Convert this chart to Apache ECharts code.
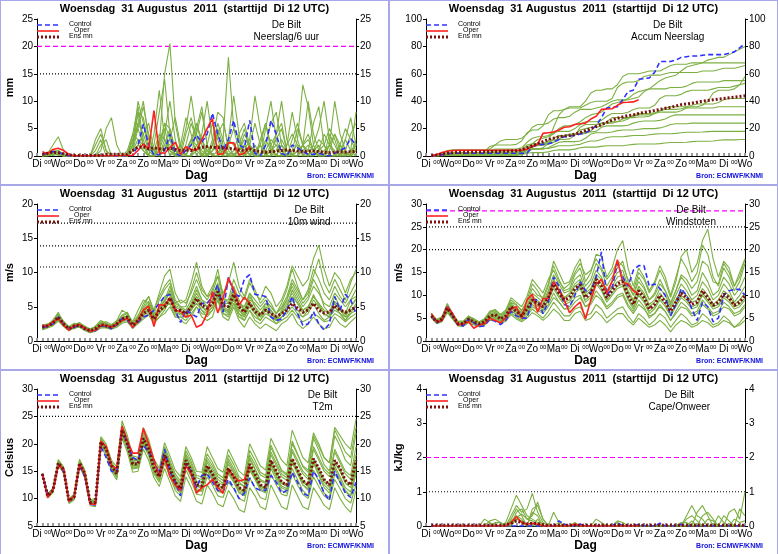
<!DOCTYPE html>
<html>
<head>
<meta charset="utf-8">
<script src="https://cdn.jsdelivr.net/npm/echarts@6/dist/echarts.min.js"></script>
<style>
  body { margin: 0; background: #fff; }
  .p { position: absolute; width: 387px; height: 183px; border: 1px solid #a8a8e8; }
</style>
</head>
<body>
<div class="p" id="p1" style="left:0;top:0"></div>
<div class="p" id="p2" style="left:389px;top:0"></div>
<div class="p" id="p3" style="left:0;top:185px"></div>
<div class="p" id="p4" style="left:389px;top:185px"></div>
<div class="p" id="p5" style="left:0;top:370px"></div>
<div class="p" id="p6" style="left:389px;top:370px"></div>
<script>
var dagen = ['Di','Wo','Do','Vr','Za','Zo','Ma','Di','Wo','Do','Vr','Za','Zo','Ma','Di','Wo']
var tijd = []
for (var t = 0; t <= 60; t++) tijd.push(t)

// sparse table -> 6-hourly list (t = 1..60)
function uitTabel(tab, basis) {
  var r = []
  for (var t = 1; t <= 60; t++) r.push(tab[t] !== undefined ? tab[t] : basis)
  return r
}

var panelen = {
  p1: {
    naam: 'mm', min: 0, max: 25, interval: 5, sub: 'Neerslag/6 uur',
    lijnen: [[20, 'rgb(255,0,255)', 'dashed'], [15, '#000000', 'dotted']],
    control: [0.3,0.5,0.8,0.7,0.3,0,0,0,0,0,0.1,0.1,0,0,0,0,0,0.1,2,5.8,2,0.2,0.3,1,4,0.5,0,1,2,3.8,2.5,4,7.8,4,1,3,6.5,2,1.5,6.5,0.5,0,2,6.5,4,0.5,0,2,1.5,0.8,0.3,0.3,0.5,0.2,0,0.5,1,1.5,3.2,2],
    oper: [0.8,0.4,1.2,1.4,1.0,0.3,0.05,0.05,0.05,0.05,0.05,0.05,0.05,0.05,0.05,0.1,0.1,0.1,1.0,2.2,1.3,8.3,0.6,0.5,1.5,2.5,0.3,1.7,1.2,1.0,3,5,6.8,0.3,0.4,2.4,2.4,0.2,0.5,1.8],
    mean: [0.3,0.5,0.7,0.6,0.4,0.2,0.1,0.1,0.1,0.1,0.1,0.1,0.3,0.3,0.3,0.3,0.3,1.0,1.6,1.7,1.3,1.5,1.3,1.2,1.4,1.2,1.0,1.1,1.0,1.3,1.6,1.7,1.6,1.5,1.5,1.4,1.3,1.1,1.0,1.3,1.0,0.8,0.7,0.8,0.9,1.0,1.1,1.0,0.9,0.8,0.9,0.9,0.8,0.7,0.6,0.7,0.8,0.7,0.8,0.8],
    leden: [
      [0,0.5,1,0.5,0,0,0,0,0,0,0,0,0,0,0,0,0,2,6,10,3,1,0,2,5,1,0,0,3,6,2,0,1,4,1,0,0,2,5,1,0,0,3,1,0,0,2,8,3,0,0,1,2,0,0,0,1,3,1,0],
      [0,0.2,0.5,1,0.2,0,0,0,0,0,3,5,1,0,0,0,0.5,3,8,2,0,4,12,3,0,1,2,0,0,5,9,2,0,1,0,3,11,4,0,0,1,2,0,0,4,6,1,0,0,2,10,4,1,0,0,0,2,1,0,0],
      [0.2,0.3,0.5,0.3,0,0,0,0,0,0,0,0,0,0,0,0,1,4,3,1,0,0,2,15,20.5,6,1,0,0,2,3,1,0,0,3,18,5,1,0,2,6,2,0,0,1,3,1,0,0,0,1,6,9,2,0,0,0,1,0,1],
      [0,0.5,2,3.5,1,0,0,0,0,0,0,1,5,7,2,0,0,1,5,9,4,0,1,6,3,0,2,7,4,0,0,1,2,4,6,2,0,0,1,3,11,5,0,0,0,2,1,0,3,13,9,2,0,0,2,4,1,0,0,2],
      [0,0,0.5,0.5,0.2,0,0,0,0,0,2,4,1,0,0,0,0,2,10,6,1,0,3,5,1,0,0,4,7,3,0,0,2,6,3,0,0,1,4,2,0,0,5,10,3,0,0,1,5,2,0,0,1,4,2,0,0,3,7,2],
      [0,0.3,0.6,0.4,0,0,0,0,0,0,0,0,0,0,0,0,0,3,5,2,1,2,8,14,4,0,0,2,6,3,1,0,3,8,7,1,0,0,2,1,0,0,2,6,8,2,0,0,1,2,4,1,0,0,2,10,4,1,0,3],
      [0,0.2,0.5,0.6,0,0,0,0,0,0,1,3,0,0,0,0,0,1,2,4,6,1,0,1,3,7,2,0,0,1,4,10,3,0,0,2,5,3,0,1,0,2,6,2,0,0,0,3,6,2,0,0,1,2,5,3,0,0,1,8],
      [0,0.4,0.8,1,0.3,0,0,0,0,0,0,0,0,0,0,0,0,4,9,3,0,0,1,4,10,3,0,1,3,1,0,2,6,3,0,0,0,1,3,2,1,0,0,2,4,10,3,0,0,1,2,1,0,0,4,2,0,0,1,2],
      [0,0,0.2,0.3,0,0,0,0,0,0,0,2,3,0,0,0,0,1,3,2,0,0,2,6,5,1,0,0,2,4,8,2,0,0,1,3,2,0,0,1,2,0,0,1,3,5,1,0,0,2,3,1,0,0,1,4,2,0,0,1],
      [0,0.3,0.8,0.5,0,0,0,0,0,0,0,0,0,0,0,0,0,2,6,4,1,1,4,3,1,0,1,5,11,4,0,0,1,2,1,0,1,4,6,2,0,0,1,3,2,0,0,1,2,1,0,2,5,10,3,0,0,1,4,6],
      [0.2,0.4,0.6,0.4,0,0,0,0,0,0,0,0,0,0,0,0,0,1,8,7,2,0,0,3,2,0,0,1,2,6,3,0,2,5,2,0,0,1,2,0,0,3,6,1,0,0,2,4,2,0,0,1,3,2,0,0,2,5,3,1],
      [0,0.1,0.3,0.2,0,0,0,0,0,0,0,0,0,0,0,0,0,1,2,1,0,0,1,2,1,0,0,1,3,2,0,0,1,2,0,0,0,1,2,1,0,0,0,1,2,1,0,0,1,2,1,0,0,1,2,1,0,0,1,2]
    ]
  },
  p2: {
    naam: 'mm', min: 0, max: 100, interval: 20, sub: 'Accum Neerslag', lijnen: [],
    control: [0,0.5,1,1.5,2,2,2,2,2,2,2,2,2,2,2,2,2,2,2,7,8,8.5,9,10,12,14,14.5,15,16,17,19,22,28,35,35.5,36,41,47,48,56,56.5,57,61,69,69,69,70,72,72.5,73,73,73.5,74,74,74,74,75,76,79,82],
    oper: [0.5,1,2.5,3.5,4,4.2,4.2,4.2,4.2,4.2,4.2,4.2,4.2,4.2,4.2,4.2,4.2,4.2,5,7,8.5,16.5,17,17.5,19,21,21.3,23,23.5,24,27,29,34,34.3,34.5,37,39,39.2,39.5,41],
    mean: [0.2,0.7,1.4,2,2.4,2.6,2.7,2.8,2.9,3,3.1,3.2,3.3,3.4,3.5,3.6,3.8,4.5,6,7.5,9,10.5,12,13,14,14.5,15,16,17,18.5,20,21.5,23,24.5,26,27.5,28.5,29.5,30,31,31.8,32.5,33.2,34,34.8,35.5,36.5,37.5,38,38.5,39.3,40,40.5,41,41.5,42,42.5,43,43.5,44],
    leden: [
      [0,0.5,1.5,2.5,2.5,2.5,2.5,2.5,2.5,2.5,2.5,2.5,2.5,2.5,2.5,2.5,2.5,3,5,9,12,13,14,16,20,22,22,23,25,28,30,31,32,35,38,39,40,42,45,47,48,49,52,55,57,58,59,62,65,66,67,68,70,71,72,72,74,76,78,80],
      [0,0.3,1,1.5,1.5,1.5,1.5,1.5,1.5,1.5,3,7,8,8,8,8,8.5,11,17,19,19,22,30,33,33,34,36,36,36,40,46,48,48,49,49,52,58,60,60,60,61,62,62,62,64,66,67,67,67,68,68,68,68,68,68,68,68,68,68,68],
      [0,0.3,0.8,1,1,1,1,1,1,1,1,1,1,1,1,1,2,5,8,9,9,9,11,21,30,34,35,35,35,37,39,40,40,40,42,50,53,54,54,55,58,59,59,59,60,61,61,61,61,61,61,62,62,62,63,64,64,64,65,66],
      [0,0.5,2,4,4.5,4.5,4.5,4.5,4.5,4.5,4.5,5,8,11,12,12,12,13,16,21,23,23,24,27,28,28,29,32,34,34,34,35,36,38,40,41,41,41,42,43,47,49,49,49,49,50,50,50,51,53,54,54,54,54,54,55,55,55,55,55],
      [0,0,0.5,1,1,1,1,1,1,1,2,4,5,5,5,5,5,6,10,13,14,14,15,17,18,18,18,20,23,25,25,25,26,29,31,31,31,32,34,35,35,35,37,42,44,44,44,45,47,48,48,48,48,49,50,50,50,51,52,53],
      [0,0.3,0.8,1,1,1,1,1,1,1,1,1,1,1,1,1,1,2,4,5,5,6,9,13,15,15,15,16,19,20,21,21,22,25,28,28,28,28,29,30,30,30,31,33,35,36,36,36,36,37,38,38,38,38,39,41,42,42,42,42],
      [0,0.2,0.5,1,1,1,1,1,1,1,1.5,3,3,3,3,3,3,3.5,4.5,6,9,9.5,9.5,10,12,15,16,16,16,16.5,18,23,24,24,24,25,27,28,28,28.5,28.5,29,31,32,32,32,32,33,35,35,35,35,35,35,36,36,36,36,36,36],
      [0,0.4,1,1.5,1.6,1.6,1.6,1.6,1.6,1.6,1.6,1.6,1.6,1.6,1.6,1.6,1.6,3,7,8,8,8,8.5,10,14,15,15,15.5,17,17.5,17.5,18,21,22,22,22,22,22.5,24,25,25.5,25.5,25.5,26,27,29,30,30,30,30,30,30,30,30,30,30,30,30,30,30],
      [0,0,0.2,0.4,0.4,0.4,0.4,0.4,0.4,0.4,0.4,1,2,2,2,2,2,2.5,4,5,5,5,6,8,10,10.5,10.5,10.5,11,13,16,17,17,17,17.5,18.5,19,19,19,19.5,20,20,20,20.5,21.5,23,23.5,23.5,23.5,24,24,24,24,24,24,24,24,24,24,24],
      [0,0.3,1,1.5,1.5,1.5,1.5,1.5,1.5,1.5,1.5,1.5,1.5,1.5,1.5,1.5,1.5,2.5,5,7,7.5,8,10,11.5,12,12,12.5,15,21,23,23,23,23.5,24.5,25,25,25.5,27,30,31,31,31,31.5,33,34,34,34,34.5,35.5,36,36,37,40,46,48,48,48,49,52,58],
      [0,0.2,0.5,0.8,0.8,0.8,0.8,0.8,0.8,0.8,0.8,0.8,0.8,0.8,0.8,0.8,0.8,1.2,3,5,5.5,5.5,5.5,6.5,7.5,7.5,7.5,8,8.5,10,11,11,12,13.5,14,14,14,14.5,15,15,15,15.5,16,16.2,16.2,16.2,16.5,17,17.3,17.3,17.3,17.5,17.8,18,18,18,18,18,18,18],
      [0,0.1,0.3,0.5,0.5,0.5,0.5,0.5,0.5,0.5,0.5,0.5,0.5,0.5,0.5,0.5,0.5,1,2,2.5,2.5,2.5,3,4,4.5,4.5,4.5,5,6,6.5,6.5,6.5,7,7.5,7.5,7.5,7.5,8,8.5,8.8,8.8,8.8,8.8,9,9.5,9.8,9.8,9.8,10,10.5,10.8,10.8,10.8,11,11.5,11.8,11.8,11.8,12,12]
    ]
  },
  p3: {
    naam: 'm/s', min: 0, max: 20, interval: 5, sub: '10m wind',
    lijnen: [[10.8, '#000000', 'dotted'], [13.9, '#000000', 'dotted'], [17.2, '#000000', 'dotted']],
    control: [2.0,2.1,2.5,3.5,2.5,1.7,2.0,2.3,1.8,1.4,1.5,2.2,2.2,1.8,2.4,3.3,3.0,2.0,2.8,3.5,3.8,4.5,5.5,6.5,6.8,4.5,2.7,4.5,4.0,3.5,5.5,5.5,6.5,8.2,4.2,9.3,7,6.5,9,9.7,6.8,6.7,6.5,3.5,3.0,3.2,4.5,6.5,4,2.3,2.5,4.3,2.5,1.6,2.5,6.5,4.5,6.8,6,4],
    oper: [2.3,2.2,2.8,3.3,2.3,1.6,2.2,2.4,1.9,1.4,1.6,2.3,2.3,2.0,2.5,3.0,3.3,2.0,3.0,4.5,5.1,2.1,5.3,5.2,6.3,4.5,4.3,3.5,3.8,2.0,2.4,4.0,7.2,4.1,6.2,9.2,7.5,5.2,6.4,5.5],
    mean: [2,2.2,2.6,3.5,2.5,1.8,2.2,2.3,1.8,1.5,1.8,2.4,2.2,2.0,2.5,3.2,3.5,2.3,3.0,4.0,4.5,3.2,4.5,5.0,6.3,4.5,4.5,4.0,5.0,6.2,5.2,4.8,5.5,7.2,5.2,5.0,6.8,5.0,4.2,5.5,4.3,3.8,4.5,4.0,3.6,4.0,4.5,5.5,4.8,4.2,4.5,5.5,4.5,4.1,4.2,5.2,4.5,4.2,4.5,5],
    leden: [
      [1.8,2.0,2.8,3.8,2.2,1.5,2.0,2.6,1.6,1.2,2.0,2.8,2.5,1.8,2.8,3.8,4.2,2.5,3.5,5.5,6.5,4.0,6.0,7.5,8.5,5.5,6.0,5.5,7.0,9.0,7.0,6.0,7.5,10.5,6.5,5.5,8.0,6.0,4.5,7.0,5.0,3.5,5.5,4.5,3.0,4.5,6.0,8.5,7.0,5.5,6.5,9.0,7.5,5.0,4.0,6.5,5.0,4.0,6.0,7.5],
      [2.2,2.4,2.3,3.2,2.8,2.0,2.5,2.0,2.0,1.7,1.5,2.0,2.0,2.3,2.2,2.8,3.0,2.0,2.5,3.2,3.8,2.5,3.5,4.0,5.0,3.5,3.5,3.0,4.0,5.0,4.0,3.8,4.5,6.0,4.0,3.8,5.5,3.5,3.0,4.5,3.0,2.5,3.5,3.0,2.5,3.0,3.5,4.5,3.5,2.8,3.2,4.0,3.5,2.8,3.0,4.0,3.5,2.8,3.5,4.0],
      [1.7,2.1,3.0,4.2,2.6,1.6,2.4,2.7,2.0,1.3,2.2,3.0,2.6,2.2,3.0,4.5,4.0,2.8,4.5,6.0,5.5,4.5,7.0,9.5,10.5,7.0,5.5,6.0,8.5,11.5,8.0,6.5,8.0,9.5,7.0,8.5,11.5,8.0,6.5,9.0,7.5,5.5,6.5,5.5,4.0,5.5,7.5,10.5,8.0,6.0,7.0,9.5,12.0,8.5,7.0,9.0,7.5,6.0,8.5,10.5],
      [2.0,2.3,2.4,3.0,2.4,1.9,1.8,2.2,1.7,1.6,1.8,2.2,2.0,1.8,2.2,2.8,3.2,2.0,2.8,4.0,4.5,2.8,3.5,4.5,6.0,4.0,3.0,2.5,3.5,5.0,3.5,3.0,3.5,6.0,3.5,3.0,5.0,3.0,2.0,3.5,2.5,1.8,2.5,2.0,1.5,2.5,3.0,4.0,2.5,1.8,2.5,3.5,2.5,1.8,2.0,3.5,2.5,2.0,2.8,3.5],
      [2.1,2.2,2.7,3.6,2.4,1.7,2.1,2.5,1.9,1.4,1.7,2.4,2.3,2.0,2.6,3.5,3.6,2.4,3.2,4.5,5.0,3.5,4.5,5.5,7.5,5.0,4.5,4.0,5.5,7.5,6.0,5.0,6.0,8.0,5.0,4.5,7.0,5.0,4.0,6.5,5.0,4.0,5.0,4.5,3.5,4.0,5.0,6.5,5.5,4.5,5.0,6.5,5.5,4.5,4.0,5.5,4.5,3.5,5.0,6.0],
      [1.9,2.0,2.5,3.3,2.7,1.8,2.3,2.1,1.7,1.5,1.9,2.6,2.4,2.1,2.4,3.0,3.8,2.2,3.0,4.8,5.8,3.8,5.0,6.5,7.0,4.5,4.0,3.5,5.0,6.5,5.0,4.5,5.5,7.5,4.5,4.0,6.5,4.5,3.5,5.5,4.0,3.0,4.0,3.5,2.5,3.5,4.5,6.0,4.5,3.5,4.0,5.5,4.0,3.0,3.5,5.0,4.0,3.0,4.0,5.5],
      [2.3,2.5,2.9,3.9,2.9,2.1,2.6,2.4,2.1,1.8,2.1,2.7,2.8,2.4,2.9,3.6,4.0,2.6,3.8,5.0,6.5,4.5,6.5,8.0,9.0,6.0,5.0,5.0,7.5,10.0,7.5,6.5,7.0,9.5,6.0,6.0,9.0,7.0,6.0,8.5,7.0,6.0,8.0,7.0,5.0,6.0,8.0,11.0,9.5,8.0,9.0,12.0,14.0,10.5,8.0,10.0,9.0,7.0,9.0,10.0],
      [1.6,1.9,2.2,2.9,2.1,1.5,1.9,2.0,1.5,1.2,1.4,1.9,1.9,1.7,2.0,2.6,2.8,1.8,2.6,3.5,4.0,3.0,4.0,5.0,5.5,3.5,3.5,3.5,4.5,5.5,4.5,4.0,5.0,6.5,4.5,4.5,6.0,4.0,3.0,4.5,3.5,3.0,4.5,4.0,3.0,3.5,4.0,5.0,4.0,3.5,4.5,6.0,5.0,4.0,3.5,4.5,4.0,3.5,4.0,4.5],
      [2.4,2.3,3.1,4.0,2.7,2.0,2.4,2.6,2.2,1.6,2.0,2.5,2.6,2.2,2.7,3.4,3.5,2.3,3.3,4.2,5.2,3.3,4.8,6.0,8.0,5.5,5.0,4.5,6.0,8.0,6.0,5.5,6.5,8.5,5.5,5.5,7.5,5.5,5.0,7.0,6.0,5.0,6.0,5.0,4.0,5.0,6.5,9.0,7.5,6.0,7.5,10.5,9.0,7.0,6.0,8.0,6.5,5.5,7.0,8.5],
      [1.8,2.1,2.6,3.4,2.3,1.6,2.0,2.3,1.8,1.4,1.6,2.1,2.1,1.9,2.3,3.1,3.3,2.1,2.9,3.8,4.2,3.2,4.2,4.8,6.5,4.5,4.0,3.5,4.5,6.0,4.5,3.5,4.5,6.5,4.0,3.5,5.5,4.0,3.5,5.0,4.0,3.5,4.5,3.5,3.0,4.0,5.0,7.5,6.0,4.5,5.0,6.5,5.5,4.0,3.5,5.0,4.0,3.0,4.5,5.0],
      [2.0,2.2,2.8,3.7,2.6,1.9,2.2,2.4,1.9,1.5,1.8,2.3,2.3,2.0,2.5,3.3,3.6,2.5,3.4,4.6,5.4,3.6,4.6,5.8,7.0,5.2,4.8,4.2,5.2,7.0,5.5,5.0,6.0,7.8,5.2,5.0,7.2,5.5,4.5,6.0,5.5,4.5,5.5,5.0,4.0,4.8,6.0,8.0,6.5,5.0,6.0,8.0,7.0,5.5,5.0,7.0,6.0,5.0,6.0,6.5],
      [2.1,2.0,2.4,3.1,2.5,1.7,2.0,2.2,1.8,1.5,1.7,2.2,2.2,1.9,2.4,3.0,3.4,2.2,3.0,4.1,4.8,3.1,4.0,5.2,6.2,4.2,3.8,3.8,4.8,6.5,5.0,4.2,5.0,7.0,4.8,4.2,6.2,4.5,3.8,5.8,4.5,3.5,4.8,4.0,3.2,4.2,5.5,7.0,5.5,4.0,4.8,6.8,5.2,3.8,3.8,5.8,4.8,3.8,5.0,6.2]
    ]
  },
  p4: {
    naam: 'm/s', min: 0, max: 30, interval: 5, sub: 'Windstoten',
    lijnen: [[28.5, 'rgb(255,0,255)', 'dashed'], [25, '#000000', 'dotted'], [20, '#000000', 'dotted']],
    control: [5.5,4,4.5,7.8,5.5,3.5,3.3,4.8,4,3.2,3.3,4.8,4.3,3.6,4.5,6.5,5.5,5,5,9,9,6,8.5,14,12,8,7.5,10,13,11,10.5,14,19.5,10,11.5,17,14,12,15.5,16.5,16.5,12,12.5,11.5,10,5.5,8,11.5,10,7,4.5,8.5,7.5,4.2,5,10,11,11.3,11.3,10],
    oper: [6,4.2,4.5,7.5,6,3.5,3.8,4.2,2.8,3.5,3.8,5,4.5,4,5,7,7.5,5,9,10.2,6.3,9.3,9.3,13,11,9,6.2,7.5,8.5,4.8,9,12.5,13.5,10.5,13,17.8,12.8,12.5,11,10.3],
    mean: [5.5,4.2,4.8,7.2,5.5,3.8,3.8,4.8,4.2,3.8,4.2,5.5,5.8,4.8,5.5,7.5,6.5,5.5,7,9,8.2,7.5,9.5,12.5,10.5,9,9.5,11.5,12.3,9.5,10.5,13.5,12,9.5,11,12.5,13,10,8,11,9.5,7,8,10,8.5,6.5,8.5,10.5,9.5,8,8.5,11,9.5,7.8,8.5,10.3,9.5,7.8,8.5,10],
    leden: [
      [5.8,4.0,5.0,8.0,5.8,3.8,4.0,5.5,4.5,3.5,4.5,6.5,6.5,5.0,6.5,9.0,8.0,6.5,9.0,12.5,11.0,9.0,12.0,16.5,13.5,11.0,11.5,14.5,16.0,12.0,13.5,17.0,15.5,12.0,14.0,16.0,17.5,13.0,10.0,14.0,12.0,9.0,10.5,13.5,11.0,8.0,11.0,14.0,12.5,10.0,11.0,15.0,13.0,10.0,11.0,14.0,12.5,10.0,11.5,14.0],
      [5.2,4.4,4.5,6.8,5.2,3.5,3.6,4.4,3.8,3.5,3.8,5.0,5.0,4.3,4.8,6.5,5.8,4.8,6.0,7.5,6.8,6.0,7.5,9.5,8.5,7.0,7.0,8.5,9.5,7.5,8.0,10.0,9.0,7.0,8.0,9.5,10.0,7.5,6.0,8.0,7.0,5.5,6.0,7.5,6.5,4.5,6.0,7.5,7.0,5.5,6.0,8.0,7.0,5.5,6.0,7.5,7.0,5.5,6.0,7.5],
      [6.0,4.6,5.2,7.8,6.0,4.2,4.2,5.2,4.8,4.0,4.8,6.2,6.8,5.6,6.5,8.5,7.8,6.8,8.5,11.5,10.0,9.5,12.5,17.5,15.0,12.5,13.0,16.0,18.0,13.0,15.0,19.0,18.5,14.0,16.0,20.0,22.0,16.0,12.0,16.0,14.0,11.0,13.0,16.5,14.0,10.0,14.0,18.0,16.0,13.0,15.0,21.0,19.0,14.0,12.0,16.0,14.0,11.0,13.0,17.0],
      [5.4,3.9,4.3,6.5,5.0,3.4,3.4,4.3,3.7,3.2,3.5,4.8,4.8,4.0,4.6,6.2,5.2,4.5,5.5,7.0,6.0,5.0,6.5,8.5,7.0,5.5,5.5,7.0,7.5,5.5,6.0,8.0,7.0,5.0,6.0,7.0,7.5,5.5,4.0,6.0,5.0,3.5,4.5,6.0,5.0,3.0,4.5,6.0,5.0,3.5,4.0,6.0,5.0,3.5,4.0,5.5,4.5,3.0,4.0,5.5],
      [5.6,4.2,4.9,7.4,5.6,3.9,3.9,4.9,4.3,3.8,4.3,5.6,5.9,4.9,5.6,7.7,6.7,5.7,7.2,9.4,8.4,7.7,9.8,13.0,11.0,9.5,10.0,12.0,12.8,10.0,11.0,14.0,12.5,10.0,11.5,13.0,13.5,10.5,8.5,11.5,10.0,7.5,8.5,10.5,9.0,7.0,9.0,11.0,10.0,8.5,9.0,11.5,10.0,8.0,9.0,11.0,10.0,8.0,9.0,10.5],
      [5.7,4.1,4.6,7.0,5.4,3.7,3.7,4.6,4.0,3.6,4.0,5.3,5.5,4.6,5.3,7.2,6.2,5.2,6.6,8.5,7.6,6.8,8.8,11.5,9.5,8.0,8.5,10.5,11.5,8.5,9.5,12.5,11.0,8.5,10.0,11.5,12.0,9.0,7.0,10.0,8.5,6.0,7.0,9.0,7.5,5.5,7.5,9.5,8.5,7.0,7.5,10.0,8.5,7.0,7.5,9.5,8.5,7.0,7.5,9.0],
      [5.9,4.5,5.1,7.6,5.9,4.1,4.1,5.1,4.6,4.0,4.6,6.0,6.3,5.3,6.1,8.2,7.2,6.2,7.8,10.5,9.5,8.5,11.0,14.5,12.5,10.5,11.0,13.5,14.5,11.0,12.5,15.5,14.0,11.0,13.0,15.0,15.5,12.0,10.0,13.0,11.5,9.0,10.0,12.5,11.0,8.5,11.0,14.5,13.5,11.5,13.0,17.5,16.5,13.0,12.5,17.0,15.0,12.0,14.0,18.0],
      [5.3,4.0,4.4,6.8,5.1,3.6,3.5,4.4,3.9,3.4,3.8,5.1,5.2,4.4,5.0,6.8,5.8,5.0,6.2,8.0,7.0,6.5,8.0,10.5,8.5,7.0,7.5,9.5,10.0,7.5,8.5,11.0,9.5,7.5,8.5,10.0,10.5,8.0,6.5,9.0,7.5,5.0,6.0,8.0,6.5,4.5,6.5,8.5,7.5,6.0,6.5,9.0,7.5,6.0,6.5,8.5,7.5,6.0,6.5,8.0],
      [5.5,4.3,5.0,7.3,5.6,3.9,3.9,5.0,4.4,3.9,4.4,5.7,6.0,5.0,5.8,7.9,6.9,6.0,7.5,9.8,8.8,8.0,10.5,13.5,11.5,9.5,10.5,12.5,13.5,10.5,11.5,14.5,13.5,10.5,12.0,14.0,14.5,11.0,9.0,12.0,10.5,8.0,9.0,11.5,10.0,7.5,10.0,12.5,11.0,9.0,10.0,13.0,11.5,9.0,10.0,12.5,11.0,8.5,10.0,12.0],
      [5.4,4.1,4.7,7.1,5.3,3.7,3.8,4.7,4.1,3.7,4.1,5.4,5.7,4.7,5.4,7.4,6.4,5.4,6.8,8.8,8.0,7.2,9.0,12.0,10.0,8.5,9.0,11.0,12.0,9.0,10.0,13.0,11.5,9.0,10.5,12.0,12.5,9.5,7.5,10.5,9.0,6.5,7.5,9.5,8.0,6.0,8.0,10.0,9.0,7.5,8.0,10.5,9.0,7.5,8.0,10.0,9.0,7.5,8.0,9.5],
      [6.1,4.7,5.3,8.2,6.1,4.3,4.4,5.4,4.9,4.2,4.9,6.5,6.9,5.8,6.8,9.5,8.5,7.5,9.8,13.5,12.0,10.5,13.5,15.5,13.0,11.5,12.5,15.0,17.0,14.5,15.5,18.0,16.0,13.5,15.0,17.5,16.5,13.5,11.0,15.0,13.5,10.5,12.5,15.5,13.0,9.5,13.0,18.5,20.0,15.0,17.0,22.0,24.5,18.0,14.0,17.5,16.0,12.0,15.0,18.0],
      [5.0,3.8,4.2,6.2,4.8,3.3,3.2,4.0,3.5,3.1,3.4,4.5,4.5,3.8,4.3,5.8,4.8,4.2,5.0,6.2,5.5,4.5,5.5,7.0,6.0,4.5,4.5,6.0,6.5,4.5,5.0,6.5,5.5,4.0,5.0,6.0,6.0,4.5,3.5,5.0,4.0,3.0,3.5,4.5,3.5,2.0,3.5,4.5,4.0,3.0,3.5,4.5,4.0,3.0,3.5,4.5,4.0,3.0,3.5,4.5]
    ]
  },
  p5: {
    naam: 'Celsius', min: 5, max: 30, interval: 5, sub: 'T2m',
    lijnen: [[25, '#000000', 'dotted']],
    control: [14.5,11,11.5,16,15,9.5,10.5,16,14,9,8.8,19.5,17.5,15,14.8,22.5,20,17.5,17,19.8,18.5,17,14.5,19,15,13,10.5,16.3,15,12,14.2,14.5,13,11.5,11.3,13.5,12,10,11,13.8,12,11.5,11.5,14.2,13,11,11.5,14.8,13,11,10.5,15,13.5,11,9.7,15,13,11,10.2,13],
    oper: [14.5,10.2,11.5,16,15.5,9.5,10.5,16.3,14.5,9,9,20.5,19.5,16,15.5,23.2,20.5,18.3,18.3,22.8,20,17,14,17.5,14,12.5,11.5,16,14.5,11,12,12.5,13.5,12,11,15.5,14,13.2,13.5,16],
    mean: [14.5,10.5,11.5,16.5,15.3,9.6,10.3,16.5,14.5,9.3,9.3,20.3,19,16,14.5,22.5,20,16.3,16.3,21,19,15.5,14,18,15.5,13,11.8,17,15,12.5,12.3,16,14.5,12.5,12,15.5,14,12,11.5,16.3,14.5,12.5,12,17,15,13,12.5,17.3,15.3,13.3,12.5,17.3,15.5,13.5,12.5,17,15.5,13.3,12.5,17],
    leden: [
      [14.6,10.8,11.8,16.9,15.6,9.9,10.6,16.9,14.9,9.6,9.7,21.0,19.6,16.6,15.2,23.5,21.0,17.2,17.0,22.3,20.2,16.6,15.0,19.5,17.0,14.5,13.2,18.8,16.8,14.2,14.0,18.2,16.6,14.5,13.8,18.0,16.2,14.0,13.2,18.8,17.0,14.8,14.2,19.8,17.5,15.2,14.5,20.5,18.2,15.8,14.8,21.0,18.8,16.2,15.0,21.5,19.5,17.0,16.0,22.0],
      [14.4,10.2,11.2,16.1,15.0,9.3,10.0,16.1,14.1,9.0,8.9,19.6,18.4,15.4,13.8,21.5,19.0,15.4,15.6,19.8,17.8,14.5,13.0,16.5,14.0,11.5,10.5,15.2,13.2,10.8,10.6,14.0,12.5,10.5,10.2,13.0,11.8,10.0,9.5,13.8,12.0,10.2,9.8,14.5,12.5,10.8,10.5,14.5,12.5,10.8,10.0,14.0,12.2,10.5,9.8,13.5,11.8,10.0,9.2,12.5],
      [14.5,10.6,11.6,16.6,15.4,9.7,10.5,16.6,14.6,9.4,9.4,20.5,19.2,16.3,14.8,22.8,20.4,16.8,16.6,21.5,19.5,16.0,14.5,18.8,16.2,13.8,12.5,17.8,15.8,13.2,13.0,17.0,15.5,13.5,12.8,16.8,15.0,13.0,12.2,17.5,15.5,13.5,13.0,18.5,16.5,14.5,13.8,19.0,17.0,15.0,14.0,19.5,17.5,15.5,14.5,19.0,17.0,15.0,14.2,19.5],
      [14.5,10.4,11.3,16.3,15.1,9.4,10.1,16.2,14.3,9.1,9.0,19.9,18.7,15.7,14.2,22.0,19.6,15.9,15.9,20.5,18.5,15.0,13.5,17.2,14.8,12.3,11.2,16.2,14.2,11.8,11.5,15.0,13.6,11.5,11.2,14.5,13.0,11.0,10.5,15.2,13.5,11.5,11.0,15.5,13.5,11.5,11.0,15.5,13.5,11.5,10.5,15.2,13.2,11.0,10.2,14.5,13.0,11.2,10.5,15.0],
      [14.6,10.7,11.7,16.8,15.5,9.8,10.6,16.8,14.8,9.6,9.6,20.8,19.4,16.5,15.0,23.2,20.7,17.0,16.9,22.0,19.8,16.3,14.8,19.0,16.5,14.0,12.8,18.2,16.3,13.8,13.5,17.5,16.0,14.0,13.3,17.3,15.5,13.5,12.8,18.0,16.2,14.3,13.8,19.3,17.2,15.0,14.2,20.0,18.0,16.0,15.2,21.5,19.5,17.5,16.5,23.0,21.5,20.0,19.0,24.5],
      [14.4,10.3,11.4,16.4,15.2,9.5,10.2,16.4,14.4,9.2,9.1,20.1,18.9,15.8,14.4,22.3,19.8,16.1,16.1,20.8,18.8,15.2,13.8,17.5,15.2,12.8,11.5,16.5,14.8,12.3,12.0,15.5,14.0,12.0,11.5,15.0,13.5,11.5,11.0,15.8,14.0,12.0,11.5,16.3,14.3,12.3,11.8,16.5,14.5,12.5,11.8,16.5,14.5,12.5,11.5,16.0,14.0,12.0,11.2,15.5],
      [14.5,10.5,11.5,16.5,15.3,9.6,10.3,16.5,14.5,9.3,9.3,20.3,19.0,16.0,14.5,22.5,20.0,16.3,16.3,21.0,19.0,15.5,14.0,18.0,15.5,13.0,11.8,17.0,15.0,12.5,12.3,16.0,14.5,12.5,12.0,15.5,14.0,12.0,11.5,16.3,14.5,12.5,12.0,17.0,15.0,13.0,12.5,17.3,15.3,13.3,12.5,17.3,15.5,13.5,12.5,17.0,15.5,13.3,12.5,17.0],
      [14.4,10.1,11.1,15.9,14.8,9.1,9.8,15.8,13.8,8.7,8.5,19.2,18.0,15.0,13.4,21.0,18.5,14.8,15.0,19.0,17.0,13.8,12.2,15.5,13.0,10.5,9.5,14.0,12.0,9.5,9.0,12.5,11.0,9.0,8.5,11.5,10.0,8.0,7.5,12.0,10.5,8.5,8.0,12.5,10.5,8.5,8.0,12.5,10.5,8.5,8.0,12.0,10.5,8.8,8.0,12.0,10.0,8.5,7.5,11.5],
      [14.6,10.9,11.9,17.1,15.8,10.0,10.8,17.2,15.2,9.8,10.0,21.3,20.0,17.0,15.8,24.2,21.5,17.8,17.5,23.0,20.8,17.2,15.5,20.2,17.8,15.2,14.0,19.5,17.5,15.0,14.8,19.5,17.5,15.5,14.8,19.0,17.0,15.0,14.2,20.0,18.0,16.0,15.2,21.0,19.0,17.0,16.0,22.5,20.0,17.5,16.5,22.0,20.0,17.5,16.5,22.5,20.5,18.5,17.5,23.0],
      [14.5,10.5,11.4,16.3,15.2,9.5,10.3,16.3,14.2,9.2,9.2,20.0,18.8,15.9,14.3,22.2,19.8,16.0,16.2,20.5,18.5,15.3,13.8,17.8,15.3,12.8,11.7,16.8,14.8,12.2,12.0,15.8,14.2,12.2,11.8,15.2,13.7,11.8,11.2,16.0,14.2,12.2,11.8,16.8,14.8,12.8,12.2,17.2,15.0,13.0,12.2,17.0,15.0,13.0,12.0,16.5,15.0,12.8,12.0,16.2],
      [14.5,10.6,11.6,16.7,15.4,9.7,10.4,16.7,14.7,9.5,9.5,20.6,19.3,16.2,14.8,22.7,20.3,16.6,16.5,21.3,19.3,15.8,14.3,18.5,16.0,13.4,12.2,17.5,15.5,13.0,12.8,16.6,15.0,13.0,12.5,16.3,14.7,12.7,12.2,17.2,15.3,13.2,12.8,18.0,16.0,14.0,13.3,18.5,16.5,14.5,13.5,19.0,17.0,15.0,14.0,18.5,16.5,14.5,13.5,18.0],
      [14.4,10.3,11.3,16.2,15.1,9.4,10.1,16.3,14.3,9.1,9.1,19.8,18.6,15.6,14.0,21.8,19.3,15.6,15.7,20.2,18.2,14.8,13.3,17.0,14.5,12.0,11.0,16.0,14.0,11.5,11.3,15.2,13.5,11.3,11.0,14.8,13.2,11.2,10.8,15.5,13.7,11.7,11.2,16.0,14.0,12.0,11.5,16.8,14.8,12.5,11.5,16.5,14.2,12.0,11.0,15.5,13.5,11.5,10.5,14.5]
    ]
  },
  p6: {
    naam: 'kJ/kg', min: 0, max: 4, interval: 1, sub: 'Cape/Onweer',
    lijnen: [[2, 'rgb(255,0,255)', 'dashed'], [1, '#000000', 'dotted']],
    control: uitTabel({25:0.15,26:0.05,29:0.05,36:0.1,40:0.05,44:0.08,48:0.05}, 0),
    oper: uitTabel({16:0.1,17:0.27,18:0.1,19:0.05,20:0.08,21:0.05,28:0.06}, 0).slice(0, 40),
    mean: uitTabel({15:0.03,16:0.08,17:0.15,18:0.1,19:0.06,20:0.08,21:0.07,22:0.04}, 0.02),
    leden: [
      uitTabel({15:0.1,16:0.5,17:0.9,18:0.6,19:0.3,20:0.2,21:0.1,25:0.1}, 0),
      uitTabel({16:0.3,17:0.6,18:0.4,19:0.5,20:0.95,21:0.4,22:0.1}, 0),
      uitTabel({17:0.4,18:0.5,19:0.2,20:0.3,21:0.7,22:0.2,24:0.4,25:0.1}, 0),
      uitTabel({12:0.15,13:0.2,14:0.1,17:0.3,18:0.2,20:0.4,21:0.3,32:0.2,33:0.1,36:0.1,49:0.3,50:0.6,51:0.3,52:0.2}, 0),
      uitTabel({11:0.2,12:0.1,16:0.2,17:0.5,18:0.3,20:0.5,21:0.6,22:0.2,51:0.4,52:0.6,53:0.3,55:0.3,56:0.1}, 0),
      uitTabel({13:0.1,14:0.1,17:0.2,18:0.15,28:0.1,49:0.2,50:0.3,51:0.15,57:0.4,58:0.5,59:0.2,60:1.0}, 0),
      uitTabel({17:0.25,18:0.35,19:0.2,20:0.15,36:0.15,37:0.1,50:0.15,52:0.3,53:0.4,54:0.2,56:0.3,57:0.15,59:0.5,60:0.3}, 0),
      uitTabel({16:0.15,17:0.3,18:0.1,21:0.2,29:0.05,48:0.1,49:0.1,53:0.2,54:0.15,58:0.2,59:0.1,60:0.15}, 0)
    ]
  }
}

function metStart(arr) { return ['-'].concat(arr) }

// legend drawn by hand: line sample + label
function legendaRegel(y, tekst, stijl) {
  return [
    { type: 'line', shape: { x1: 36, y1: y, x2: 58, y2: y }, style: stijl, z: 10 },
    { type: 'text', x: tekst == 'Control' ? 68 : (tekst == 'Oper' ? 73 : 68), y: y - 4,
      style: { text: tekst, fontSize: 7, fill: '#000', fontFamily: 'Liberation Sans' }, z: 10 }
  ]
}

function tekenPaneel(id, cfg) {
  var chart = echarts.init(document.getElementById(id))
  var yas = {
    type: 'value', min: cfg.min, max: cfg.max, interval: cfg.interval,
    axisLine: { show: true, lineStyle: { color: '#000' } },
    axisTick: { show: true, length: 3, lineStyle: { color: '#000' } },
    splitLine: { show: false },
    axisLabel: { color: '#000', fontSize: 10, fontFamily: 'Liberation Sans', margin: 4 }
  }
  var series = []
  // horizontal threshold lines, one flat series each
  cfg.lijnen.forEach(function (l) {
    series.push({ type: 'line', data: tijd.map(function () { return l[0] }), symbol: 'none', silent: true,
      emphasis: { disabled: true }, blur: { lineStyle: { opacity: 1 } },
      lineStyle: { color: l[1], width: 1.2, opacity: 1, type: l[2] == 'dashed' ? [5, 3] : [1, 2] }, z: 0 })
  })
  cfg.leden.forEach(function (lid) {
    series.push({ type: 'line', data: metStart(lid), symbol: 'none', silent: true,
      lineStyle: { color: '#7db043', width: 1.1 }, z: 1 })
  })
  series.push({ name: 'Control', type: 'line', data: metStart(cfg.control), symbol: 'none', silent: true,
    lineStyle: { color: '#3030ff', width: 1.6, type: [5, 3] }, z: 4 })
  series.push({ name: 'Oper', type: 'line', data: metStart(cfg.oper), symbol: 'none', silent: true,
    lineStyle: { color: '#ff2020', width: 1.6 }, z: 5 })
  series.push({ name: 'Ens mn', type: 'line', data: metStart(cfg.mean), symbol: 'none', silent: true,
    lineStyle: { color: '#7a1010', width: 3, type: [2, 2] }, z: 6 })

  var graf = []
    .concat(legendaRegel(24, 'Control', { stroke: '#3030ff', lineWidth: 1.6, lineDash: [5, 3] }))
    .concat(legendaRegel(30, 'Oper', { stroke: '#ff2020', lineWidth: 1.6 }))
    .concat(legendaRegel(36, 'Ens mn', { stroke: '#7a1010', lineWidth: 3, lineDash: [2, 2] }))

  chart.setOption({
    animation: false,
    textStyle: { fontFamily: 'Liberation Sans' },
    title: [
      { text: 'Woensdag  31 Augustus  2011  (starttijd  Di 12 UTC)', left: 'center', top: 1, padding: 0,
        textStyle: { fontSize: 11, fontWeight: 'bold', color: '#000', fontFamily: 'Liberation Sans', lineHeight: 13 } },
      { text: 'De Bilt\n' + cfg.sub, right: 36, top: 18, padding: 0, textAlign: 'center',
        textStyle: { fontSize: 10, fontWeight: 'normal', color: '#000', lineHeight: 12, align: 'center' } },
      { text: 'Bron: ECMWF/KNMI', right: 14, bottom: 4, padding: 0,
        textStyle: { fontSize: 7, fontWeight: 'bold', color: '#1010e0' } }
    ],
    graphic: graf,
    grid: { left: 36, right: 32, top: 18, bottom: 28, outerBoundsMode: 'none' },
    xAxis: {
      type: 'category', data: tijd, boundaryGap: false,
      name: 'Dag', nameLocation: 'middle', nameGap: 14, nameMoveOverlap: false,
      nameTextStyle: { fontSize: 12, fontWeight: 'bold', color: '#000' },
      axisLine: { lineStyle: { color: '#000' } },
      axisTick: { show: true, interval: 0, inside: true, length: 3, lineStyle: { color: '#999', width: 2 } },
      axisLabel: {
        interval: 0, margin: 3, color: '#000', fontSize: 10, hideOverlap: false,
        formatter: function (v) {
          var t = +v
          if (t % 4 == 0) return dagen[t / 4]
          if (t % 4 == 2) return '{s|00}'
          return ''
        },
        rich: { s: { fontSize: 6, color: '#000', padding: [0, 0, 4, 0] } }
      }
    },
    yAxis: [
      Object.assign({}, yas, { name: cfg.naam, nameLocation: 'middle', nameGap: 22, nameMoveOverlap: false,
        nameTextStyle: { fontSize: 11, fontWeight: 'bold', color: '#000' } }),
      Object.assign({}, yas, { position: 'right' })
    ],
    series: series
  })
}

for (var id in panelen) tekenPaneel(id, panelen[id])
</script>
</body>
</html>
